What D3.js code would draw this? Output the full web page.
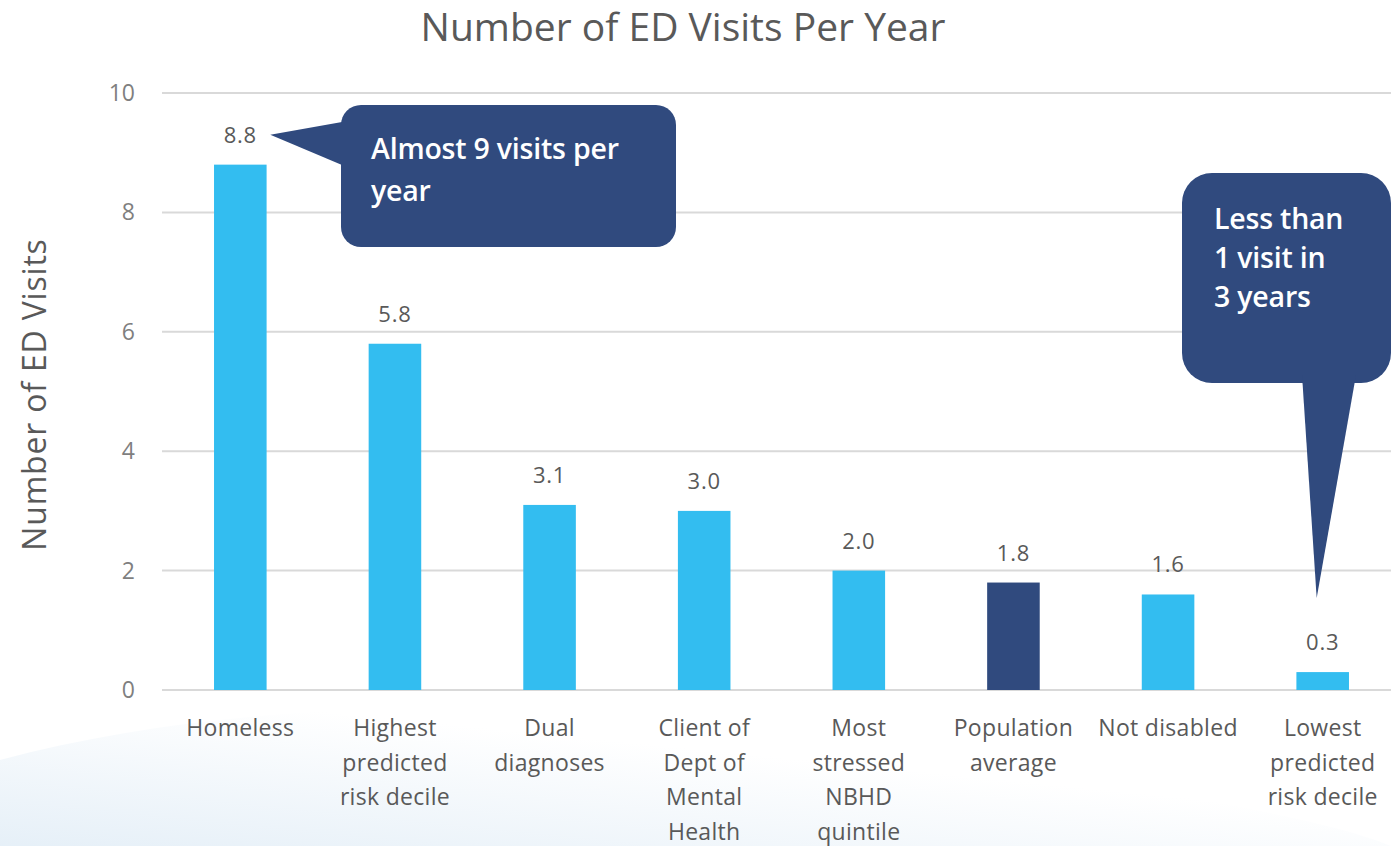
<!DOCTYPE html>
<html>
<head>
<meta charset="utf-8">
<script src="https://cdn.jsdelivr.net/npm/d3@7"></script>
<style>
  html, body { margin: 0; padding: 0; background: #fff; }
  svg { display: block; font-family: "Open Sans", Lato, sans-serif; }
  .grid line { stroke: #d9d9d9; stroke-width: 2; }
  .tick-label { fill: #7f7f7f; font-size: 23px; }
  .val-label { fill: #595959; font-size: 22px; letter-spacing: 0.8px; }
  .cat-label { fill: #595959; font-size: 23px; letter-spacing: 0.3px; }
  .callout-text { fill: #fff; font-size: 28.5px; font-weight: 600; letter-spacing: -0.2px; }
</style>
</head>
<body>
<div id="chart"></div>
<script>
// Werte
const categories = [
  "Homeless", "Highest predicted risk decile", "Dual diagnoses",
  "Client of Dept of Mental Health", "Most stressed NBHD quintile",
  "Population average", "Not disabled", "Lowest predicted risk decile"
];
const catLines = [
  ["Homeless"],
  ["Highest", "predicted", "risk decile"],
  ["Dual", "diagnoses"],
  ["Client of", "Dept of", "Mental", "Health"],
  ["Most", "stressed", "NBHD", "quintile"],
  ["Population", "average"],
  ["Not disabled"],
  ["Lowest", "predicted", "risk decile"]
];
const values = [8.8, 5.8, 3.1, 3.0, 2.0, 1.8, 1.6, 0.3];
const highlight = [false, false, false, false, false, true, false, false];
const yTicks = [0, 2, 4, 6, 8, 10];

const W = 1391, H = 846;
const LIGHT = "#33bdf0", DARK = "#304a7e";

const svg = d3.select("#chart").append("svg")
  .attr("width", W).attr("height", H);

// leichter Hintergrundverlauf unten links
const defs = svg.append("defs");
const grad = defs.append("linearGradient").attr("id", "bg")
  .attr("x1", 0).attr("y1", 1).attr("x2", 1).attr("y2", 0);
grad.append("stop").attr("offset", "0%").attr("stop-color", "#e3eef7");
grad.append("stop").attr("offset", "60%").attr("stop-color", "#ffffff");
svg.append("path")
  .attr("d", `M0,${H} L0,760 C300,680 700,700 1000,760 C1200,800 1330,820 ${W},846 Z`)
  .attr("fill", "url(#bg)").attr("opacity", 0.9);

const x = d3.scaleBand().domain(categories).range([163, 1400])
  .paddingInner(0.66).paddingOuter(0.33);
const y = d3.scaleLinear().domain([0, 10]).range([690, 93]);
const cx = i => x(categories[i]) + x.bandwidth() / 2;

// Gitter
const grid = svg.append("g").attr("class", "grid");
grid.selectAll("line").data(yTicks).enter().append("line")
  .attr("x1", 162).attr("x2", W)
  .attr("y1", d => y(d)).attr("y2", d => y(d));

svg.append("g").selectAll("text").data(yTicks).enter().append("text")
  .attr("class", "tick-label")
  .attr("x", 135).attr("y", d => y(d) + 8)
  .attr("text-anchor", "end")
  .text(d => d);

// Balken
svg.append("g").selectAll("rect").data(values).enter().append("rect")
  .attr("x", (d, i) => x(categories[i]))
  .attr("width", x.bandwidth())
  .attr("y", d => y(d))
  .attr("height", d => y(0) - y(d))
  .attr("fill", (d, i) => highlight[i] ? DARK : LIGHT);

svg.append("g").selectAll("text").data(values).enter().append("text")
  .attr("class", "val-label")
  .attr("x", (d, i) => cx(i))
  .attr("y", d => y(d) - 22)
  .attr("text-anchor", "middle")
  .text(d => d.toFixed(1));

// Kategorien
const cats = svg.append("g").selectAll("text").data(catLines).enter().append("text")
  .attr("class", "cat-label")
  .attr("text-anchor", "middle")
  .attr("x", (d, i) => cx(i))
  .attr("y", 736);
cats.each(function (lines, i) {
  const t = d3.select(this);
  lines.forEach((l, j) => {
    t.append("tspan")
      .attr("x", cx(i))
      .attr("dy", j === 0 ? 0 : 34.5)
      .text(l);
  });
});

// Titel und Achsenbeschriftung
svg.append("text")
  .attr("x", 683).attr("y", 41)
  .attr("text-anchor", "middle")
  .attr("fill", "#595959").attr("font-size", 39)
  .text("Number of ED Visits Per Year");

svg.append("text")
  .attr("transform", `translate(46,${y(5) + 3}) rotate(-90)`)
  .attr("text-anchor", "middle")
  .attr("fill", "#595959").attr("font-size", 32).attr("letter-spacing", 0.8)
  .text("Number of ED Visits");

// Sprechblase 1
const c1 = svg.append("g");
c1.append("rect").attr("x", 341).attr("y", 105).attr("width", 335).attr("height", 142)
  .attr("rx", 20).attr("fill", DARK);
c1.append("path")
  .attr("d", `M342,122 L${cx(0) + 30},${y(values[0]) - 30} L342,165 Z`)
  .attr("fill", DARK);
c1.append("text").attr("class", "callout-text").attr("x", 371).attr("y", 159).text("Almost 9 visits per");
c1.append("text").attr("class", "callout-text").attr("x", 371).attr("y", 201).text("year");

// Sprechblase 2
const c2 = svg.append("g");
c2.append("rect").attr("x", 1182).attr("y", 173).attr("width", 209).attr("height", 210)
  .attr("rx", 30).attr("fill", DARK);
c2.append("path")
  .attr("d", `M1302,375 L${cx(7) - 6},${y(values[7]) - 74} L1356,375 Z`)
  .attr("fill", DARK);
["Less than", "1 visit in", "3 years"].forEach((t, i) => {
  c2.append("text").attr("class", "callout-text")
    .attr("x", 1214).attr("y", 229 + i * 39).text(t);
});
</script>
</body>
</html>
